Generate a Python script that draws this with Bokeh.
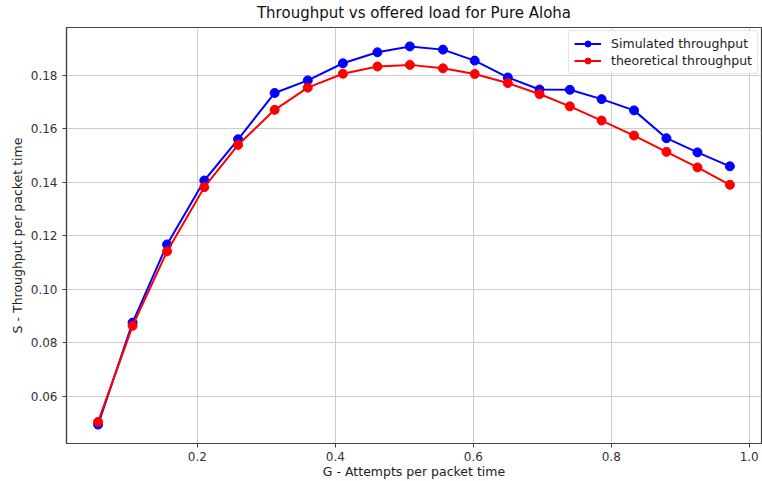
from bokeh.plotting import figure
from bokeh.models import Range1d, FixedTicker, PrintfTickFormatter
from bokeh.embed import file_html
from bokeh.resources import INLINE

# Offered load G (attempts per packet time)
G = [0.056, 0.106, 0.156, 0.210, 0.259, 0.312, 0.360, 0.411, 0.461, 0.508,
     0.556, 0.602, 0.650, 0.696, 0.740, 0.786, 0.833, 0.880, 0.925, 0.972]
# Simulated throughput S
simulated = [0.0495, 0.0876, 0.1168, 0.1407, 0.1561, 0.1734, 0.1781, 0.1845, 0.1886, 0.1908,
             0.1896, 0.1855, 0.1792, 0.1747, 0.1746, 0.1711, 0.1669, 0.1565, 0.1512, 0.1460]
# Theoretical throughput S
theoretical = [0.0505, 0.0864, 0.1142, 0.1382, 0.1540, 0.1671, 0.1754, 0.1806, 0.1833, 0.1839,
               0.1826, 0.1805, 0.1771, 0.1730, 0.1684, 0.1631, 0.1575, 0.1514, 0.1456, 0.1391]

x_ticks = [0.2, 0.4, 0.6, 0.8, 1.0]
y_ticks = [0.06, 0.08, 0.10, 0.12, 0.14, 0.16, 0.18]

FONT = "DejaVu Sans"

def padded(vals, frac=0.05):
    lo, hi = min(vals), max(vals)
    pad = (hi - lo) * frac
    return lo - pad, hi + pad

x0, x1 = padded(G)
y0, y1 = padded(simulated + theoretical)

p = figure(width=762, height=481, output_backend="svg", toolbar_location=None,
           x_range=Range1d(x0, x1), y_range=Range1d(y0, y1),
           title="Throughput vs offered load for Pure Aloha")

p.min_border_left = 66
p.min_border_right = 1
p.min_border_top = 0
p.min_border_bottom = 0

p.title.align = "center"
p.title.vertical_align = "top"
p.title.text_font = FONT
p.title.text_font_size = "15px"
p.title.text_font_style = "normal"
p.title.text_color = "#111111"
p.title.standoff = 7
p.title.offset = 0

p.outline_line_color = "#444444"
p.outline_line_width = 1.2
p.background_fill_color = "white"
p.border_fill_color = "white"

for ax in (p.xaxis[0], p.yaxis[0]):
    ax.axis_line_color = "#444444"
    ax.axis_line_width = 1.2
    ax.major_tick_line_color = "#444444"
    ax.major_tick_out = 4
    ax.major_tick_in = 0
    ax.minor_tick_line_color = None
    ax.major_label_text_font = FONT
    ax.major_label_text_font_size = "12px"
    ax.major_label_text_color = "#333333"
    ax.axis_label_text_font = FONT
    ax.axis_label_text_font_size = "12.5px"
    ax.axis_label_text_font_style = "normal"
    ax.axis_label_text_color = "#222222"

p.xaxis.major_label_standoff = 4
p.xaxis.axis_label_standoff = 0
p.yaxis.major_label_standoff = 5
p.yaxis.axis_label_standoff = 3

p.xaxis.ticker = FixedTicker(ticks=x_ticks)
p.yaxis.ticker = FixedTicker(ticks=y_ticks)
p.xaxis.formatter = PrintfTickFormatter(format="%.1f")
p.yaxis.formatter = PrintfTickFormatter(format="%.2f")
p.xaxis.axis_label = "G - Attempts per packet time"
p.yaxis.axis_label = "S - Throughput per packet time"

p.grid.grid_line_color = "#cccccc"
p.grid.grid_line_width = 1

p.line(G, simulated, line_color="#0000ff", line_width=2, legend_label="Simulated throughput")
p.scatter(G, simulated, size=9, fill_color="#0000ff", line_color="#0000ff",
          legend_label="Simulated throughput")
p.line(G, theoretical, line_color="#ff0000", line_width=2, legend_label="theoretical throughput")
p.scatter(G, theoretical, size=9, fill_color="#ff0000", line_color="#ff0000",
          legend_label="theoretical throughput")

lg = p.legend[0]
lg.location = "top_right"
lg.margin = 3
lg.padding = 5
lg.spacing = 2
lg.glyph_width = 27
lg.glyph_height = 15
lg.label_standoff = 10
lg.label_text_font = FONT
lg.label_text_font_size = "12.5px"
lg.label_text_color = "#222222"
lg.border_line_color = "#cccccc"
lg.border_line_width = 1
lg.background_fill_alpha = 0.85
lg.border_radius = 3

open("out.html", "w").write(file_html(p, INLINE))
